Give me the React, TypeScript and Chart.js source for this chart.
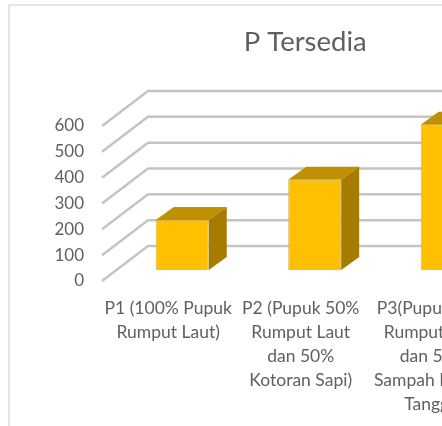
import React, { useEffect, useRef } from "react";
import { Chart, registerables } from "chart.js";

Chart.register(...registerables);

const categories = [
  ["P1 (100% Pupuk", "Rumput Laut)"],
  ["P2 (Pupuk 50%", "Rumput Laut", "dan 50%", "Kotoran Sapi)"],
  ["P3(Pupuk 50%", "Rumput Laut", "dan 50%", "Sampah Rumah", "Tangga)"],
];
const values = [194, 349, 562];
const yTicks = [0, 100, 200, 300, 400, 500, 600];
const titleText = "P Tersedia";

const FONT = "Lato, Carlito, Calibri, sans-serif";
const TEXT = "#606060";
const GRID = "#c4c4c4";
const FRONT = "#ffc000";
const TOP = "#bf9000";
const SIDE = "#a67c00";

// Pseudo-3D projection of the chart's floor and bars
const wallDx = 46;
const wallDy = -35;
const barDx = 14;
const barDy = -11;
const depthDx = 18;
const depthDy = -13;

const view3d = {
  id: "view3d",
  afterLayout(chart: any) {
    if (chart.titleBlock) chart.titleBlock.left += 9;
  },
  beforeDatasetsDraw(chart: any) {
    const { ctx, chartArea, scales } = chart;
    ctx.save();
    ctx.strokeStyle = GRID;
    ctx.lineWidth = 2.5;
    for (const v of yTicks) {
      const y = scales.y.getPixelForValue(v);
      ctx.beginPath();
      ctx.moveTo(chartArea.left, y);
      ctx.lineTo(chartArea.left + wallDx, y + wallDy);
      ctx.lineTo(chart.width, y + wallDy);
      ctx.stroke();
    }
    ctx.restore();
  },
  beforeDatasetDraw(chart: any, args: any) {
    const { ctx } = chart;
    const bars = chart.getDatasetMeta(args.index).data;
    ctx.save();
    ctx.translate(barDx, barDy);
    for (const bar of bars) {
      const { x, y, base, width } = bar.getProps(["x", "y", "base", "width"], true);
      const l = x - width / 2;
      const r = x + width / 2;
      ctx.fillStyle = TOP;
      ctx.beginPath();
      ctx.moveTo(l, y);
      ctx.lineTo(l + depthDx, y + depthDy);
      ctx.lineTo(r + depthDx, y + depthDy);
      ctx.lineTo(r, y);
      ctx.closePath();
      ctx.fill();
      ctx.fillStyle = SIDE;
      ctx.beginPath();
      ctx.moveTo(r, y);
      ctx.lineTo(r + depthDx, y + depthDy);
      ctx.lineTo(r + depthDx, base + depthDy);
      ctx.lineTo(r, base);
      ctx.closePath();
      ctx.fill();
    }
  },
  afterDatasetDraw(chart: any) {
    chart.ctx.restore();
  },
};

export default function App() {
  const ref = useRef<HTMLCanvasElement>(null);
  useEffect(() => {
    const chart = new Chart(ref.current!, {
      type: "bar",
      data: {
        labels: categories,
        datasets: [
          {
            data: values,
            backgroundColor: FRONT,
            borderColor: "#d9b44a",
            borderWidth: 1,
            categoryPercentage: 0.8,
            barPercentage: 0.5,
          },
        ],
      },
      options: {
        animation: false,
        responsive: false,
        layout: { padding: 0 },
        plugins: {
          legend: { display: false },
          tooltip: { enabled: false },
          title: {
            display: true,
            text: titleText,
            color: TEXT,
            fullSize: false,
            font: { family: FONT, size: 27.5, weight: "normal", lineHeight: 1.2 },
            padding: { top: 26, bottom: 67 },
          },
        },
        scales: {
          x: {
            grid: { display: false, drawTicks: false },
            border: { display: false },
            afterFit(s: any) {
              s.height = 145;
            },
            ticks: {
              color: TEXT,
              maxRotation: 0,
              minRotation: 0,
              autoSkip: false,
              padding: 15,
              font: { family: FONT, size: 17.5, lineHeight: 1.38 },
            },
          },
          y: {
            min: 0,
            max: 600,
            afterFit(s: any) {
              s.width = 102;
            },
            afterBuildTicks(s: any) {
              s.ticks = yTicks.map((value) => ({ value }));
            },
            grid: { display: false, drawTicks: false },
            border: { display: false },
            ticks: {
              color: TEXT,
              padding: 18,
              font: { family: FONT, size: 17 },
            },
          },
        },
      },
      plugins: [view3d],
    } as any);
    return () => chart.destroy();
  }, []);
  return (
    <div
      style={{
        position: "fixed",
        left: 0,
        top: 0,
        width: 442,
        height: 426,
        overflow: "hidden",
        background: "#fff",
      }}
    >
      <div
        style={{
          position: "absolute",
          left: 8,
          top: 4,
          width: 600,
          height: 500,
          borderLeft: "2px solid #e6e6e6",
          borderTop: "2px solid #e6e6e6",
        }}
      />
      <canvas
        ref={ref}
        width={509}
        height={426}
        style={{ position: "absolute", left: 0, top: 0, display: "block", filter: "blur(0.35px)" }}
      />
    </div>
  );
}
